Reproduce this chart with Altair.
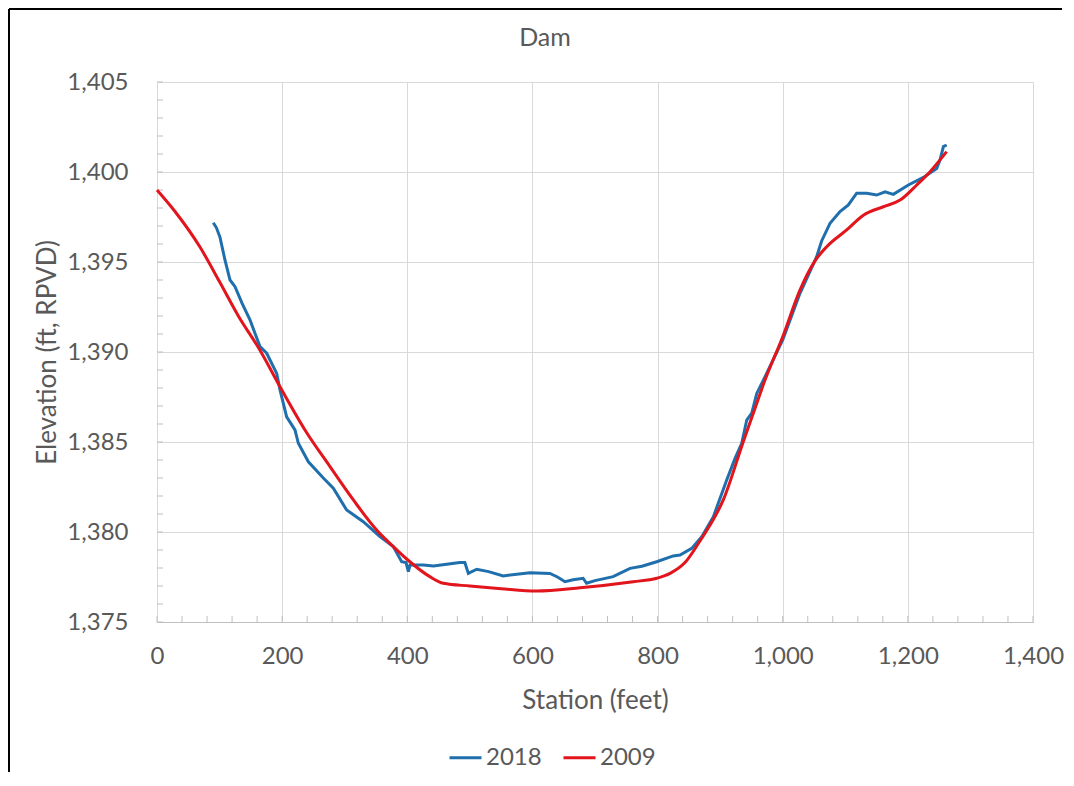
import altair as alt
import pandas as pd

# ---- data ----
station_2018 = [90, 95, 100.7, 108.7, 116.7, 124.7, 136, 148.6, 164.6, 175.3, 191.3, 196.6, 207.2, 220.5,
                225.9, 241.9, 265.8, 281.8, 303.1, 329.7, 356.3, 377.6, 391, 398, 401.7, 404.4, 425.7,
                441.7, 460, 484, 492, 497.6, 511, 530, 553.3, 575, 596, 628, 640, 652, 665, 681, 686.5,
                700, 729, 756, 775, 798.6, 825, 835.9, 854.6, 870.6, 889.2, 910.5, 923.8, 934.5, 942.5,
                950.5, 958.5, 969.1, 1000, 1027.6, 1054.3, 1062.2, 1075.6, 1091.6, 1104.9, 1118.2,
                1134.2, 1150.2, 1163.5, 1176.8, 1200.8, 1224.8, 1246.1, 1251.4, 1256.8, 1262]
elev_2018 = [1397.18, 1396.9, 1396.37, 1395.1, 1394.0, 1393.63, 1392.7, 1391.78, 1390.3, 1389.93, 1388.81,
             1387.9, 1386.4, 1385.67, 1384.93, 1383.9, 1383.0, 1382.43, 1381.22, 1380.57, 1379.74, 1379.19,
             1378.35, 1378.3, 1377.8, 1378.17, 1378.17, 1378.11, 1378.2, 1378.3, 1378.3, 1377.7, 1377.93,
             1377.8, 1377.56, 1377.65, 1377.74, 1377.7, 1377.5, 1377.24, 1377.35, 1377.43, 1377.15, 1377.3,
             1377.52, 1377.98, 1378.1, 1378.35, 1378.67, 1378.72, 1379.09, 1379.74, 1380.85, 1382.89,
             1384.09, 1384.93, 1386.22, 1386.6, 1387.7, 1388.44, 1390.67, 1393.26, 1395.3, 1396.17,
             1397.15, 1397.8, 1398.17, 1398.82, 1398.82, 1398.72, 1398.9, 1398.76, 1399.28, 1399.7,
             1400.2, 1400.67, 1401.41, 1401.5]

station_2009 = [0, 30, 68.7, 100, 130, 164.6, 196.6, 236.5, 276.5, 313.8, 351, 377.6, 399, 436, 457.6,
                500, 550, 606.6, 676, 761, 798.6, 820, 843.8, 867.8, 875.8, 905, 937, 953, 971.7, 1000,
                1027.6, 1051.6, 1070.3, 1102.2, 1128.9, 1160.9, 1187.6, 1214.2, 1235.5, 1262]
elev_2009 = [1399.0, 1397.75, 1395.83, 1393.9, 1392.0, 1390.1, 1388.07, 1385.67, 1383.63, 1381.78, 1380.11,
             1379.19, 1378.5, 1377.52, 1377.15, 1377.0, 1376.85, 1376.72, 1376.9, 1377.24, 1377.43, 1377.7,
             1378.3, 1379.5, 1379.93, 1381.78, 1385.02, 1386.6, 1388.44, 1390.85, 1393.44, 1395.06,
             1395.85, 1396.78, 1397.6, 1398.07, 1398.44, 1399.28, 1400.02, 1401.13]

series_names = ["2018", "2009"]
series_colors = ["#1F6FAD", "#E2141C"]

x_ticks = [0, 200, 400, 600, 800, 1000, 1200, 1400]
y_ticks = [1375, 1380, 1385, 1390, 1395, 1400, 1405]
x_minor = list(range(0, 1401, 40))
y_minor = list(range(1375, 1406, 1))
chart_title = "Dam"

FONT = "Lato"
TXT = "#595959"

df18 = pd.DataFrame({"station": station_2018, "elev": elev_2018, "series": "2018"})
df09 = pd.DataFrame({"station": station_2009, "elev": elev_2009, "series": "2009"})

xscale = alt.Scale(domain=[0, 1400], nice=False, zero=False)
yscale = alt.Scale(domain=[1375, 1405], nice=False, zero=False)
cscale = alt.Scale(domain=series_names, range=series_colors)

xaxis = alt.Axis(values=x_ticks, format=",d", grid=True, gridColor="#D9D9D9", domainColor="#BFBFBF",
                 ticks=False, labelFontSize=24, labelFont=FONT, labelColor=TXT, labelPadding=22,
                 labelFlush=False,
                 title="Station (feet)", titleFont=FONT, titleFontSize=26, titleFontWeight="normal",
                 titleColor=TXT, titleX=438, titleY=78, titleAlign="center", titleBaseline="middle")
yaxis = alt.Axis(values=y_ticks, format=",d", grid=True, gridColor="#D9D9D9", domain=False,
                 ticks=False, labelFontSize=24, labelFont=FONT, labelColor=TXT, labelPadding=29,
                 labelFlush=False,
                 title="Elevation (ft, RPVD)", titleFont=FONT, titleFontSize=26, titleFontWeight="normal",
                 titleColor=TXT, titleX=-110, titleY=270, titleAngle=-90, titleAlign="center",
                 titleBaseline="middle")

legend = alt.Legend(title=None, orient="none", legendX=291, legendY=658, direction="horizontal",
                    symbolType="stroke", symbolSize=1024, symbolStrokeWidth=3, labelFont=FONT,
                    labelFontSize=24, labelColor=TXT, labelOffset=3, columnPadding=15, padding=0)

line18 = alt.Chart(df18).mark_line(strokeWidth=3).encode(
    x=alt.X("station:Q", scale=xscale, axis=xaxis),
    y=alt.Y("elev:Q", scale=yscale, axis=yaxis),
    color=alt.Color("series:N", scale=cscale, legend=legend, sort=series_names),
)
line09 = alt.Chart(df09).mark_line(strokeWidth=3, interpolate="monotone").encode(
    x=alt.X("station:Q", scale=xscale),
    y=alt.Y("elev:Q", scale=yscale),
    color=alt.Color("series:N", scale=cscale, legend=legend, sort=series_names),
)

xm = alt.Chart(pd.DataFrame({"s": x_minor})).mark_rule(color="#BFBFBF", strokeWidth=1).encode(
    x=alt.X("s:Q", scale=xscale), y=alt.value(540), y2=alt.value(534))
ym = alt.Chart(pd.DataFrame({"e": y_minor})).mark_rule(color="#BFBFBF", strokeWidth=1).encode(
    y=alt.Y("e:Q", scale=yscale), x=alt.value(0), x2=alt.value(6))

title_mark = alt.Chart(pd.DataFrame({"t": [chart_title]})).mark_text(
    font=FONT, fontSize=25, color=TXT, align="center", baseline="middle").encode(
    text="t:N", x=alt.value(388), y=alt.value(-44))

border_top = alt.Chart(pd.DataFrame({"k": [0]})).mark_rule(color="black", strokeWidth=2).encode(
    x=alt.value(-148), x2=alt.value(905), y=alt.value(-73))
border_left = alt.Chart(pd.DataFrame({"k": [0]})).mark_rule(color="black", strokeWidth=2).encode(
    x=alt.value(-148), y=alt.value(-73), y2=alt.value(693))

chart = alt.layer(xm, ym, line18, line09, title_mark, border_top, border_left).properties(
    width=876, height=540,
    autosize=alt.AutoSizeParams(type="none"),
    padding={"left": 149, "top": 74, "right": 33, "bottom": 150},
).configure_view(stroke=None).configure(background="white")

chart.save("out.html", embed_options={"renderer": "svg", "actions": False})
